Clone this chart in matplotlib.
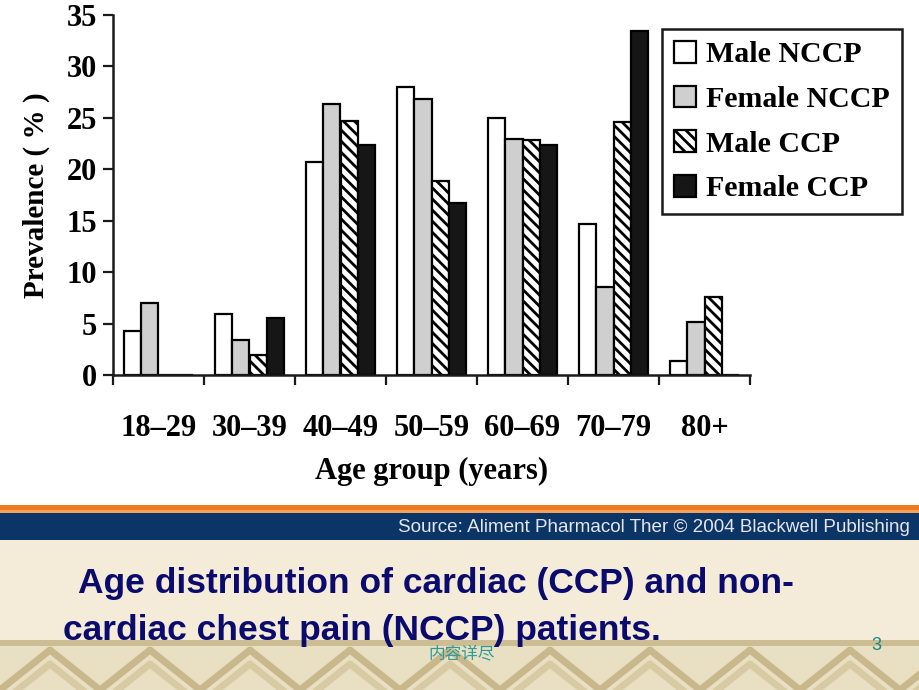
import matplotlib
matplotlib.use('Agg')
import matplotlib.pyplot as plt
import matplotlib.patches as mpatches
from matplotlib.lines import Line2D
import numpy as np

# Daten
age_groups = ['18–29', '30–39', '40–49', '50–59', '60–69', '70–79', '80+']
male_nccp = [4.3, 5.9, 20.7, 28.0, 25.0, 14.7, 1.4]
female_nccp = [7.0, 3.4, 26.3, 26.8, 22.9, 8.6, 5.2]
male_ccp = [0.0, 1.9, 24.7, 18.9, 22.8, 24.6, 7.6]
female_ccp = [0.0, 5.5, 22.4, 16.7, 22.4, 33.4, 0.0]
series_labels = ['Male NCCP', 'Female NCCP', 'Male CCP', 'Female CCP']
y_ticks = [0, 5, 10, 15, 20, 25, 30, 35]

plt.rcParams['hatch.linewidth'] = 2.0
serif = 'Liberation Serif'

W, H = 920, 690
fig = plt.figure(figsize=(W / 100, H / 100), dpi=100)
fig.patch.set_facecolor('white')


def px_rect(x0, y0, x1, y1, color, z=0):
    # Rechteck in Pixel-Koordinaten (y von oben)
    r = mpatches.Rectangle((x0 / W, 1 - y1 / H), (x1 - x0) / W, (y1 - y0) / H,
                           transform=fig.transFigure, facecolor=color,
                           edgecolor='none', zorder=z)
    fig.patches.append(r)


# Folien-Hintergrund
px_rect(0, 505, W, 510, '#f07a1e')
px_rect(0, 510, W, 513, '#f3a15c')
px_rect(0, 513, W, 540, '#0c3567')
px_rect(0, 540, W, H, '#f4ecd9')
px_rect(0, 640, W, H, '#e9dfc2')
px_rect(0, 640, W, 646, '#cdbd92')

# Zierband unten (Zickzack)
xs = np.arange(-50, W + 100, 50)
for off, col in [(0, '#c9b88b'), (14, '#d8caa2')]:
    ys = np.where((np.arange(len(xs)) % 2) == 0, 650 + off, 690 + off)
    fig.add_artist(Line2D(xs / W, 1 - ys / H, transform=fig.transFigure,
                          color=col, linewidth=5, zorder=1))

# Chart
ax = fig.add_axes([113 / W, 1 - 375 / H, (750 - 113) / W, (375 - 15) / H])
ax.set_facecolor('none')

n = len(age_groups)
centers = np.arange(n) + 0.5
w = 0.19
styles = [
    dict(color='white', edgecolor='black'),
    dict(color='#cfcfcf', edgecolor='black'),
    dict(color='white', edgecolor='black', hatch='\\\\\\'),
    dict(color='#161616', edgecolor='black'),
]
data = [male_nccp, female_nccp, male_ccp, female_ccp]
handles = []
for k, (vals, st, lab) in enumerate(zip(data, styles, series_labels)):
    bars = ax.bar(centers + (k - 1.5) * w, vals, width=w, linewidth=1.6,
                  label=lab, zorder=2, **st)
    handles.append(bars)

ax.set_xlim(0, n)
ax.set_ylim(0, 35)
ax.set_yticks(y_ticks)
ax.set_yticklabels([str(t) for t in y_ticks], fontfamily=serif,
                   fontweight='bold', fontsize=22)
ax.set_xticks(np.arange(n + 1))
ax.set_xticklabels([])
ax.set_xticks(centers, minor=True)
ax.set_xticklabels(age_groups, minor=True, fontfamily=serif,
                   fontweight='bold', fontsize=22)
ax.tick_params(axis='both', which='major', direction='out', length=7.5,
               width=1.6, color='#1a1a1a')
ax.tick_params(axis='y', pad=4)
ax.tick_params(axis='x', which='minor', length=0, pad=28)

for s in ['top', 'right']:
    ax.spines[s].set_visible(False)
for s in ['left', 'bottom']:
    ax.spines[s].set_linewidth(1.8)
    ax.spines[s].set_color('#1a1a1a')

ax.set_xlabel('Age group (years)', fontfamily=serif, fontweight='bold',
              fontsize=22, labelpad=10)
ax.set_ylabel('Prevalence ( % )', fontfamily=serif, fontweight='bold',
              fontsize=21, labelpad=12)

leg = ax.legend(handles=handles, loc='upper right',
                bbox_to_anchor=(902 / W, 1 - 29 / H),
                bbox_transform=fig.transFigure,
                prop={'family': serif, 'weight': 'bold', 'size': 21.5},
                frameon=True, fancybox=False, framealpha=1, edgecolor='#1a1a1a',
                borderpad=0.4, labelspacing=0.58, handlelength=0.75,
                handleheight=0.75, handletextpad=0.33, borderaxespad=0)
leg.get_frame().set_linewidth(1.8)

# Folientexte
fig.text(398 / W, 1 - 527 / H,
         'Source: Aliment Pharmacol Ther © 2004 Blackwell Publishing',
         fontfamily='Liberation Sans', fontsize=13.6, color='#e4e6ea',
         ha='left', va='center')
navy = '#0b0b6e'
fig.text(78 / W, 1 - 593 / H, 'Age distribution of cardiac (CCP) and non-',
         fontfamily='Liberation Sans', fontweight='bold', fontsize=25.5,
         color=navy, ha='left', va='baseline', zorder=5)
fig.text(63 / W, 1 - 640 / H, 'cardiac chest pain (NCCP) patients.',
         fontfamily='Liberation Sans', fontweight='bold', fontsize=25.5,
         color=navy, ha='left', va='baseline', zorder=5)
fig.text(462 / W, 1 - 654 / H, '内容详尽',
         fontfamily=['Noto Sans CJK SC', 'DejaVu Sans'], fontsize=12,
         color='#2a9c9c', ha='center', va='center', zorder=6)
fig.text(876 / W, 1 - 645 / H, '3', fontfamily='Liberation Sans',
         fontsize=13, color='#168a8a', ha='center', va='center', zorder=6)

fig.savefig('out.png', dpi=100)
